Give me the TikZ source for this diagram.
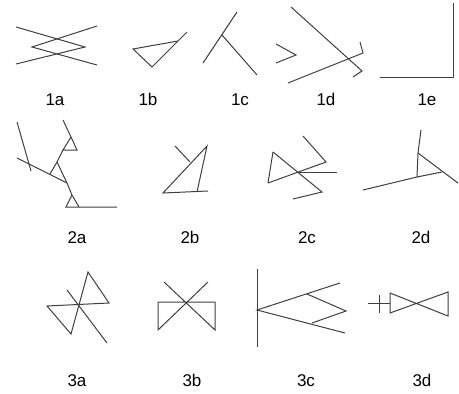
\documentclass[tikz,border=0pt]{standalone}
\usepackage{fontspec}
\setmainfont{Liberation Sans}
\tikzset{
  stroke/.style={draw=black!75, line width=1pt},
  tag/.style={anchor=base, inner sep=0pt, font=\fontsize{17}{17}\selectfont}
}
\begin{document}
\begin{tikzpicture}[x=1pt,y=-1pt]
\useasboundingbox[fill=white] (0,0) rectangle (459,394);
% row 1
\draw[stroke] (16,27) -- (85,47) -- (16,64);
\draw[stroke] (97,26) -- (32,47) -- (97,65);
\draw[stroke] (178,41) -- (133,49) -- (152,67) -- (187,32);
\draw[stroke] (203,63) -- (237,12);
\draw[stroke] (222,35) -- (257,75);
\draw[stroke] (276,44) -- (296,55) -- (276,63);
\draw[stroke] (291,7) -- (362,71) -- (353,77);
\draw[stroke] (288,83) -- (363,53) -- (360,42);
\draw[stroke] (380,77) -- (453,77) -- (453,3);
% row 2
\draw[stroke] (17,122) -- (31,171);
\draw[stroke] (17,158) -- (67,183);
\draw[stroke] (63,120) -- (71,137) -- (77,150) -- (63,150) -- (71,137);
\draw[stroke] (63,150) -- (57,162) -- (50,174);
\draw[stroke] (57,162) -- (67,183) -- (72,195) -- (79,207);
\draw[stroke] (72,195) -- (66,207) -- (117,207);
\draw[stroke] (175,146) -- (190,162);
\draw[stroke] (208,191) -- (163,193) -- (207,146) -- (197,192);
\draw[stroke] (268,183) -- (326,162) -- (303,136);
\draw[stroke] (273,152) -- (322,192) -- (293,199);
\draw[stroke] (268,183) -- (273,152);
\draw[stroke] (299,172.5) -- (337,172.5);
\draw[stroke] (363,190) -- (417,177) -- (442,172);
\draw[stroke] (421,130) -- (418,153) -- (417,177);
\draw[stroke] (418,153) -- (458,183);
% row 3
\draw[stroke] (88,272) -- (71,334) -- (47,306) -- (109,303) -- cycle;
\draw[stroke] (67,290) -- (107,343);
\draw[stroke] (164,282) -- (215,330) -- (215,302) -- (158,302) -- (158,330) -- (208,282);
\draw[stroke] (257,269) -- (257,347);
\draw[stroke] (340,283) -- (257,310) -- (345,333);
\draw[stroke] (307,294) -- (346,311) -- (312,323);
\draw[stroke] (368,303) -- (390,303);
\draw[stroke] (379,295) -- (379,313);
\draw[stroke] (448,292) -- (390,313) -- (390,293) -- (448,316) -- cycle;
% labels
\foreach \lab/\x/\y in {1a/55/105, 1b/148/105, 1c/240/105, 1d/326/105, 1e/427/105,
                        2a/77/243, 2b/190/243, 2c/307/243, 2d/421/243,
                        3a/77/386, 3b/192/386, 3c/306/386, 3d/422/386}
  \node[tag] (l\lab) at (\x,\y) {\lab};
\end{tikzpicture}
\end{document}
